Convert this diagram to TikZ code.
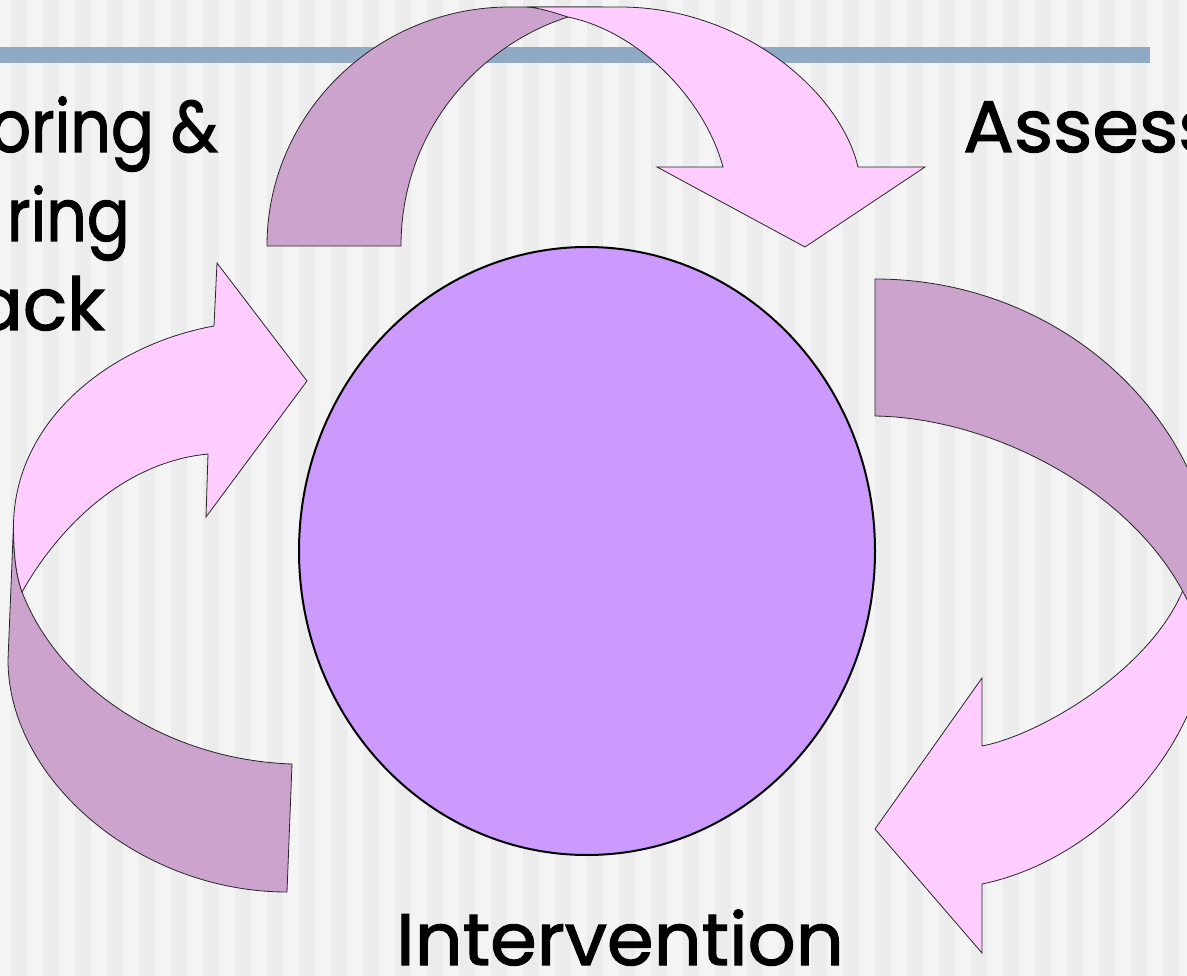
\documentclass[tikz,border=0pt]{standalone}
\usepackage{fontspec}
\setmainfont{Poppins}[FakeBold=1.6]
\usetikzlibrary{shapes.geometric}
\definecolor{bgA}{HTML}{F4F4F4}
\definecolor{bgB}{HTML}{ECECEC}
\definecolor{barC}{HTML}{90AAC6}
\definecolor{darkC}{HTML}{CCA3CC}
\definecolor{pinkC}{HTML}{FFCCFF}
\definecolor{coreC}{HTML}{CC99FF}
\tikzset{
  darkband/.style={fill=darkC, draw=black!85, line width=0.8pt, line join=miter},
  pinkband/.style={fill=pinkC, draw=black!85, line width=0.8pt, line join=miter},
  label/.style={font=\fontsize{73}{88}\selectfont, inner sep=0pt, text=black},
}
\begin{document}
\begin{tikzpicture}[x=1pt,y=-1pt]
\useasboundingbox (0,0) rectangle (1187,976);
\clip (0,0) rectangle (1187,976);
% background stripes
\fill[bgA] (0,0) rectangle (1187,976);
\foreach \i in {0,...,37} \fill[bgB] ({11+32*\i},0) rectangle ({27+32*\i},976);
% title bar
\fill[barC] (0,47) rectangle (1150,63);
% top arrow
\filldraw[darkband] (267,246) .. controls (267,114) and (376,7) .. (510,7) -- (600,7) -- (568,17) .. controls (480,45) and (401,130) .. (401,246) -- cycle;
\filldraw[pinkband] (527,7) -- (620,7) .. controls (740,7) and (840,90) .. (858,167) -- (925,167) -- (805,247) -- (657,167) -- (723,167) .. controls (705,100) and (640,32) .. (568,17) .. controls (552,12) and (540,8) .. (527,7) -- cycle;
% right arrow
\filldraw[pinkband] (982,678) -- (982,746) .. controls (1040,735) and (1150,670) .. (1183,590) -- (1240,560) -- (1212,600) .. controls (1215,740) and (1100,860) .. (982,884) -- (982,953) -- (875,829) -- cycle;
\filldraw[darkband] (875,279) .. controls (1064,279) and (1218,423) .. (1218,600) -- (1195,618) .. controls (1150,500) and (1000,418) .. (875,416) -- cycle;
% left arrow
\filldraw[darkband] (13.5,525) -- (8,660) .. controls (8,780) and (140,892) .. (287,892) -- (292,764) .. controls (170,760) and (60,690) .. (22,592) .. controls (16,575) and (13.5,555) .. (13.5,525) -- cycle;
\filldraw[pinkband] (217,263) -- (214,326) .. controls (110,345) and (15,420) .. (13.5,525) .. controls (13.5,555) and (16,575) .. (22,592) .. controls (60,525) and (125,462) .. (208,454) -- (206,517) -- (307,381) -- cycle;
% central circle
\node[ellipse, draw=black, line width=2pt, fill=coreC, minimum width=576pt, minimum height=608pt, inner sep=0pt] (core) at (587,551) {};
% labels
\node[label, anchor=base east, xscale=0.87] (mon1) at (218,152) {oring \&};
\node[label, anchor=base east, xscale=0.87] (mon2) at (130,241) {ring};
\node[label, anchor=base east, xscale=1.0] (mon3) at (105,330) {ack};
\node[label, anchor=base west, xscale=1.03] (assess) at (963,152) {Assess};
\node[label, anchor=base, xscale=1.03] (interv) at (620,965) {Intervention};
\end{tikzpicture}
\end{document}
